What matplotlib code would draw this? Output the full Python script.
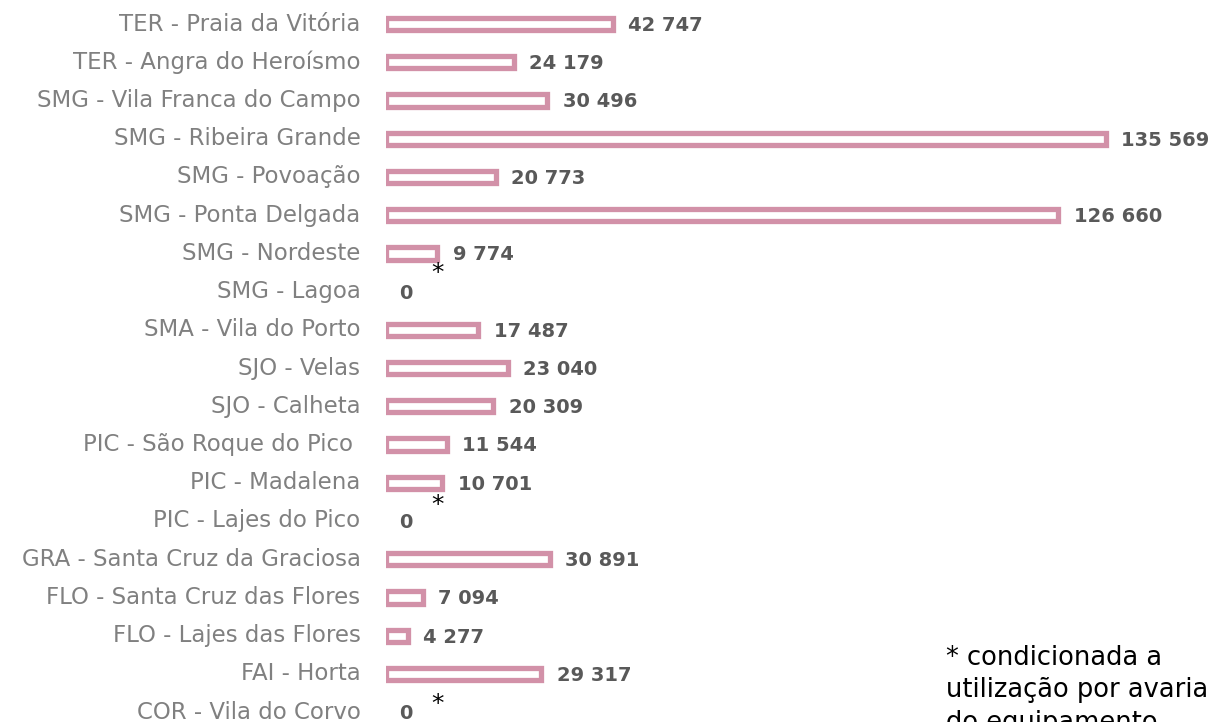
import numpy as np
import matplotlib.pyplot as plt

categories = [
    "TER - Praia da Vitória", "TER - Angra do Heroísmo", "SMG - Vila Franca do Campo",
    "SMG - Ribeira Grande", "SMG - Povoação", "SMG - Ponta Delgada", "SMG - Nordeste",
    "SMG - Lagoa", "SMA - Vila do Porto", "SJO - Velas", "SJO - Calheta",
    "PIC - São Roque do Pico ", "PIC - Madalena", "PIC - Lajes do Pico",
    "GRA - Santa Cruz da Graciosa", "FLO - Santa Cruz das Flores", "FLO - Lajes das Flores",
    "FAI - Horta", "COR - Vila do Corvo",
]
values = [42747, 24179, 30496, 135569, 20773, 126660, 9774, 0, 17487, 23040, 20309,
          11544, 10701, 0, 30891, 7094, 4277, 29317, 0]
# rows flagged with an asterisk (row index, vertical offset in rows)
flagged = [(7, -0.48), (13, -0.42), (18, -0.2)]
note = "* condicionada a\nutilização por avaria\ndo equipamento"

pink = "#d291a8"
fig = plt.figure(figsize=(12.11, 7.22), dpi=100)
ax = fig.add_axes([385.5 / 1211, 0, 825.5 / 1211, 1])

y = np.arange(len(categories))
edges = [pink if v > 0 else "none" for v in values]
ax.barh(y, values, height=0.32, color="white", edgecolor=edges, linewidth=3.8)
ax.set_xlim(0, 155400)
ax.set_ylim(18.26, -0.63)

for yi, v in zip(y, values):
    label = f"{v:,}".replace(",", " ")
    ax.annotate(label, (v, yi), xytext=(11 if v else 10, -1), textcoords="offset points",
                ha="left", va="center", fontsize=14, fontweight="bold", color="#595959")
    ax.annotate(categories[yi], (0, yi), xytext=(-18, 0), textcoords="offset points",
                ha="right", va="center", fontsize=16.5, color="#808080",
                annotation_clip=False)

for row, off in flagged:
    ax.annotate("*", (0, row + off), xytext=(33, 0), textcoords="offset points",
                ha="left", va="center", fontsize=18, color="black")

# footnote runs off the bottom edge, as in the original slide
fig.text(946 / 1211, 1 - 645 / 722, note, ha="left", va="top", fontsize=18.5,
         color="black", linespacing=1.32)

ax.axis("off")
fig.savefig("out.png", dpi=100)
